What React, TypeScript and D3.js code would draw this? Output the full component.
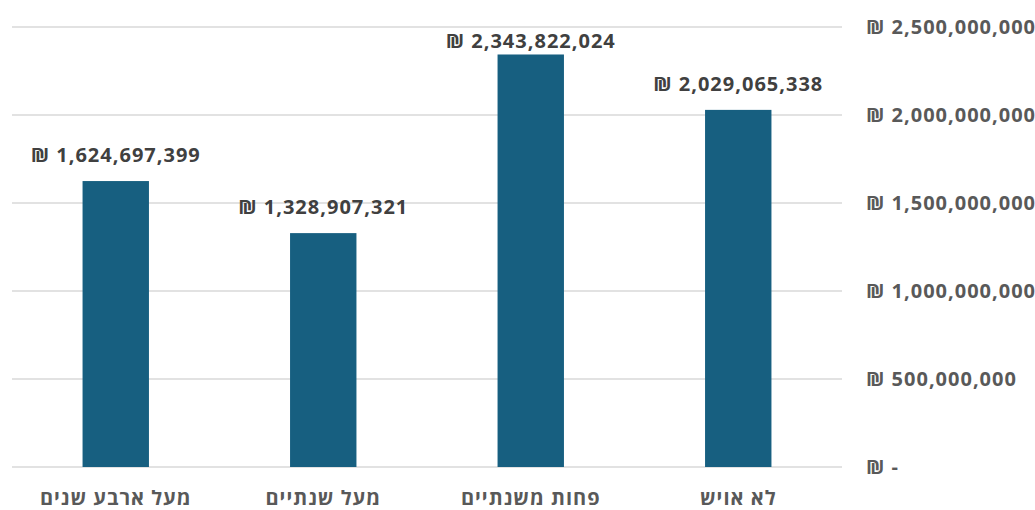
import React from 'react';
import * as d3 from 'd3';

const categories = ['מעל ארבע שנים', 'מעל שנתיים', 'פחות משנתיים', 'לא אויש'];
const amounts = [1624697399, 1328907321, 2343822024, 2029065338];
const yTicks = [0, 500000000, 1000000000, 1500000000, 2000000000, 2500000000];

const width = 1035;
const height = 510;
const font = "'Open Sans', 'DejaVu Sans', sans-serif";

function shekel(v: number) {
  return v === 0 ? '₪ -' : `₪ ${d3.format(',')(v)}`;
}

export default function App() {
  const x = d3.scaleBand<string>().domain(categories).range([12, 842]).paddingInner(0.68).paddingOuter(0.34);
  const y = d3.scaleLinear().domain([0, 2500000000]).range([467, 27]);

  return (
    <svg width={width} height={height} style={{ position: 'absolute', left: 0, top: 0 }}>
      {yTicks.map((t) => (
        <g key={t}>
          <line x1={12} x2={842} y1={y(t)} y2={y(t)} stroke="#d9d9d9" strokeWidth={1.5} />
          <text x={866} y={y(t)} dy="0.35em" fontFamily={font} fontWeight="bold" fontSize={20} letterSpacing={1} fill="#595959" direction="ltr">
            {shekel(t)}
          </text>
        </g>
      ))}
      {categories.map((c, i) => (
        <g key={c}>
          <rect x={x(c)} y={y(amounts[i])} width={x.bandwidth()} height={y(0) - y(amounts[i])} fill="#175f80" />
          <text x={x(c)! + x.bandwidth() / 2} y={Math.max(y(amounts[i]) - 19, 48)} textAnchor="middle" fontFamily={font} fontWeight="bold" fontSize={20} letterSpacing={1} fill="#404040" direction="ltr">
            {shekel(amounts[i])}
          </text>
          <text x={x(c)! + x.bandwidth() / 2} y={505} textAnchor="middle" fontFamily={font} fontWeight="bold" fontSize={20} letterSpacing={1} fill="#595959">
            {c}
          </text>
        </g>
      ))}
    </svg>
  );
}
